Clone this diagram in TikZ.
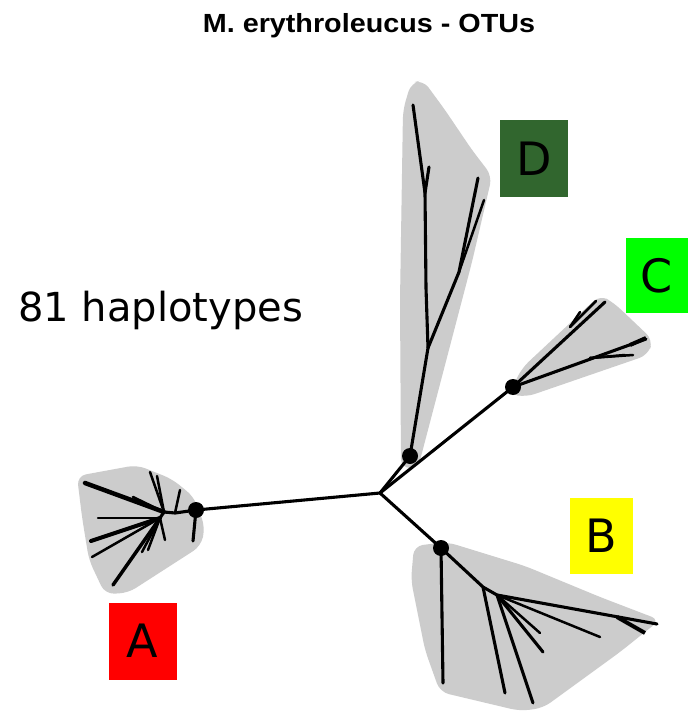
\documentclass[tikz,border=0pt]{standalone}
\usepackage{fontspec}
\setmainfont{DejaVu Sans}
\newfontfamily\titlefont{Liberation Sans}
\definecolor{hullgray}{RGB}{204,204,204}
\definecolor{boxA}{RGB}{255,0,0}
\definecolor{boxB}{RGB}{255,255,0}
\definecolor{boxC}{RGB}{0,255,0}
\definecolor{boxD}{RGB}{49,102,46}
\tikzset{
  hull/.style={fill=hullgray, draw=none, rounded corners=9pt},
  br/.style={line width=3.1pt, line cap=round},
  tw/.style={line width=2.5pt, line cap=round},
  dot/.style={circle, fill=black, inner sep=0pt, minimum size=16pt},
  lab/.style={font=\fontsize{46}{46}\selectfont, text=black},
}
\begin{document}
\begin{tikzpicture}[x=1pt,y=-1pt]
\useasboundingbox (0,0) rectangle (688,711);
\fill[white] (0,0) rectangle (688,711);

% title and count
\node[anchor=base, inner sep=0pt] (title) at (369,33)
  {\scalebox{1.15}[1.05]{\titlefont\bfseries\fontsize{25}{25}\selectfont M. erythroleucus - OTUs}};
\node[anchor=base west, inner sep=0pt, font=\fontsize{40}{40}\selectfont] (hap) at (18,321) {81 haplotypes};

% hulls
\fill[hull] (77,476) -- (137,465) -- (172,479) -- (194,497) -- (205,527) -- (201,546) -- (128,593) -- (105,594) -- (89,560) -- (82,517) -- cycle;
\fill[hull] (403,110) -- (411,83) -- (423,80) -- (445,110) -- (472,150) -- (492,176) -- (472,262) -- (418,468) -- (401,468) -- (400,300) -- cycle;
\fill[hull] (509,394) -- (522,368) -- (600,295) -- (614,303) -- (653,340) -- (648,355) -- (526,397) -- cycle;
\fill[hull] (414,546) -- (447,542) -- (525,566) -- (600,597) -- (660,620) -- (620,652) -- (543,708) -- (520,711) -- (440,692) -- (425,650) -- (411,580) -- cycle;

% main nodes
\coordinate (root) at (380,493);
\node[dot] (nA) at (196,510) {};
\node[dot] (nD) at (410,456) {};
\node[dot] (nC) at (513,387) {};
\node[dot] (nB) at (441,548) {};

\draw[br] (root) -- (nA.center);
\draw[br] (root) -- (nD.center);
\draw[br] (root) -- (nC.center);
\draw[br] (root) -- (nB.center);

% ---- clade A
\coordinate (a1) at (175,513);
\coordinate (a2) at (164,512);
\coordinate (a3) at (160,518);
\coordinate (aDown) at (193,541);
\coordinate (aUp) at (180,490);
\coordinate (aw1) at (85,483);
\coordinate (aw2) at (133,497);
\coordinate (aw3) at (150,472);
\coordinate (aw4) at (157,476);
\coordinate (al1) at (98,518);
\coordinate (al2) at (91,541);
\coordinate (al3) at (92,557);
\coordinate (al4) at (113,585);
\coordinate (al5) at (142,552);
\coordinate (al6) at (148,550);
\coordinate (al7) at (165,540);
\draw[br] (nA.center) -- (a1) -- (a2) -- (a3);
\draw[br] (nA.center) -- (aDown);
\draw[tw] (a1) -- (aUp);
\draw[line width=4.5pt, line cap=round] (a2) -- (aw1);
\draw[tw] (a2) -- (aw2);
\draw[tw] (a2) -- (aw3);
\draw[tw] (a2) -- (aw4);
\draw[tw] (a3) -- (al1);
\draw[line width=4pt, line cap=round] (a3) -- (al2);
\draw[tw] (a3) -- (al3);
\draw[line width=3.5pt, line cap=round] (a3) -- (al4);
\draw[tw] (a3) -- (al5);
\draw[tw] (a3) -- (al6);
\draw[tw] (a3) -- (al7);

% ---- clade D
\coordinate (d1) at (428,348);
\coordinate (d2) at (426,288);
\coordinate (d3) at (425,193);
\coordinate (dTop) at (413,105);
\coordinate (dSh) at (429,167);
\coordinate (d4) at (459,272);
\coordinate (dR1) at (478,178);
\coordinate (dR2) at (484,200);
\draw[br] (nD.center) -- (d1) -- (d2) -- (d3) -- (dTop);
\draw[br] (d3) -- (dSh);
\draw[br] (d1) -- (d4) -- (dR1);
\draw[tw] (d4) -- (dR2);

% ---- clade C
\coordinate (cU) at (605,302);
\coordinate (cL) at (646,339);
\coordinate (cu1) at (570,327);
\coordinate (cu2) at (580,312);
\coordinate (cu3) at (596,301);
\coordinate (cl1) at (590,358);
\coordinate (cl2) at (633,355);
\coordinate (cl3) at (625,355);
\draw[br] (nC.center) -- (cU);
\draw[br] (nC.center) -- (cL);
\draw[tw] (cu1) -- (cu2);
\draw[tw] (cu1) -- (cu3);
\draw[tw] (cl1) -- (cl2);
\draw[tw] (cl1) -- (cl3);
\draw[line width=4pt] (630,345) -- (646,338);

% ---- clade B
\coordinate (b1) at (483,587);
\coordinate (b2) at (497,595);
\coordinate (bDown) at (443,683);
\coordinate (bR) at (657,624);
\coordinate (bR1) at (600,637);
\coordinate (bR2) at (645,633);
\coordinate (bl1) at (505,693);
\coordinate (bl2) at (533,703);
\coordinate (bl3) at (543,652);
\coordinate (bl4) at (540,633);
\draw[br] (nB.center) -- (bDown);
\draw[br] (nB.center) -- (b1) -- (b2) -- (bR);
\draw[tw] (b2) -- (bR1);
\draw[line width=4pt] (b2) ++(120,22) -- (bR2);
\draw[br] (b1) -- (bl1);
\draw[br] (b2) -- (bl2);
\draw[br] (b2) -- (bl3);
\draw[tw] (b2) -- (bl4);

% ---- label boxes
\node[fill=boxA, minimum width=68pt, minimum height=77pt, inner sep=0pt, lab] (LA) at (142.5,641) {A};
\node[fill=boxB, minimum width=63pt, minimum height=76pt, inner sep=0pt, lab] (LB) at (601.5,536) {B};
\node[fill=boxC, minimum width=62pt, minimum height=75pt, inner sep=0pt, lab] (LC) at (657,275.5) {C};
\node[fill=boxD, minimum width=68pt, minimum height=77pt, inner sep=0pt, lab] (LD) at (534,158.5) {D};
\end{tikzpicture}
\end{document}
